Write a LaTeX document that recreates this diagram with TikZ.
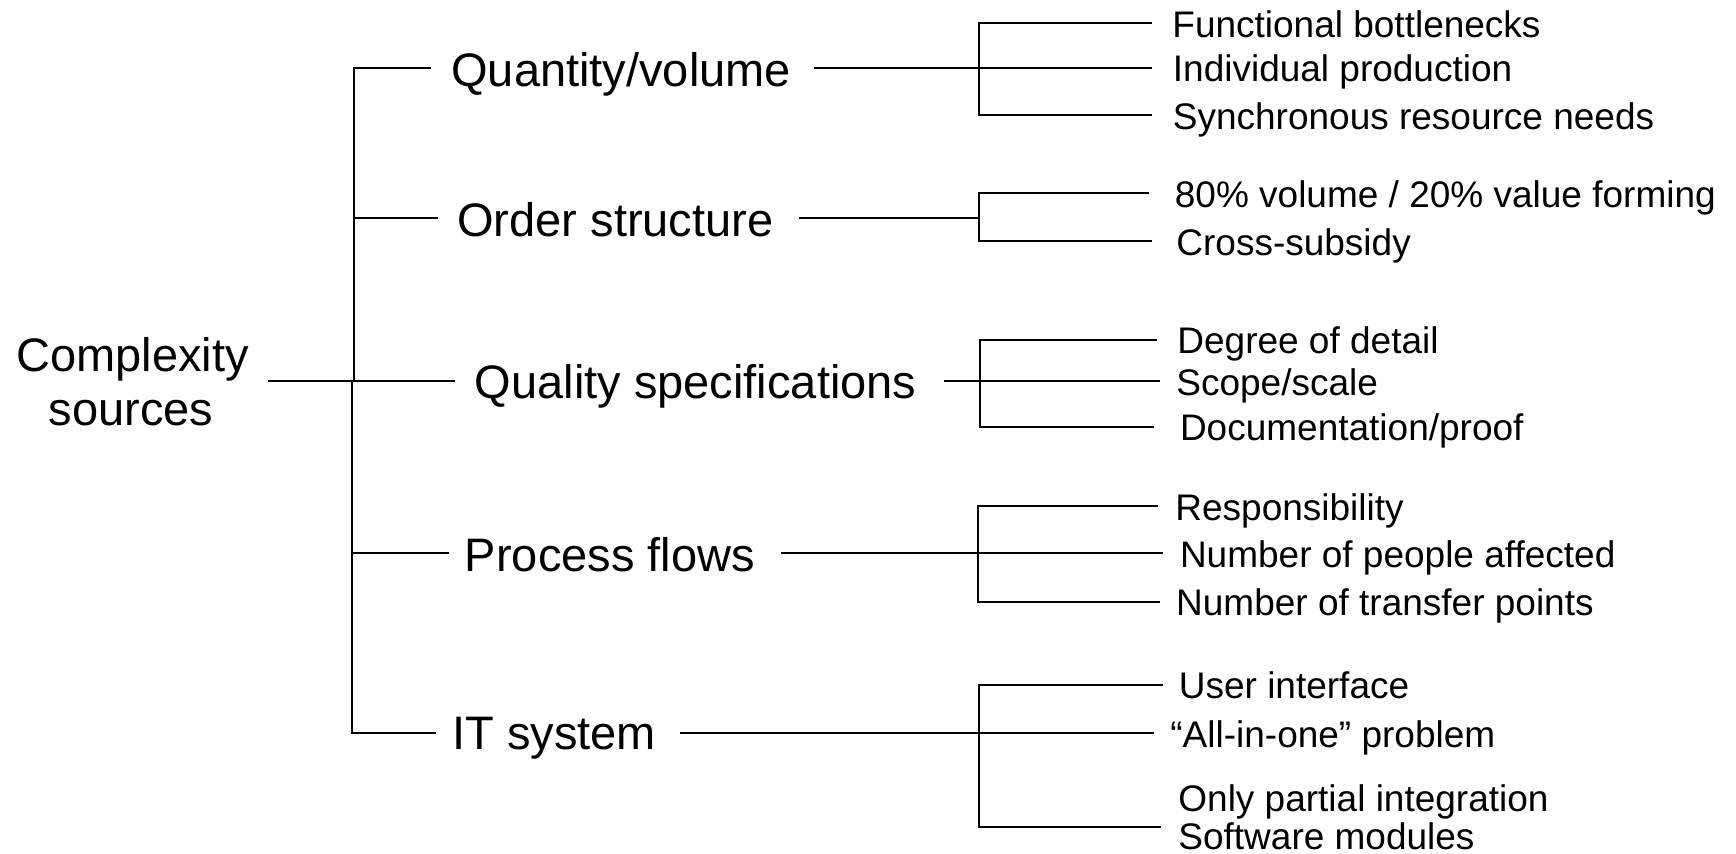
\documentclass[tikz,border=0pt]{standalone}
\usepackage{fontspec}
\setmainfont{Liberation Sans}
\begin{document}
\begin{tikzpicture}[x=0.5pt,y=-0.5pt,
  main/.style={font=\fontsize{23.5}{28}\selectfont, inner sep=0pt, anchor=base west},
  sub/.style={font=\fontsize{18.5}{22}\selectfont, inner sep=0pt, anchor=base west},
  link/.style={line width=0.9pt, line cap=rect},
  trunk/.style={line width=1.4pt}]
\useasboundingbox (0,0) rectangle (1736,854);

% root
\node[main, anchor=base] (root1) at (132.5,372) {Complexity};
\node[main, anchor=base] (root2) at (131,426) {sources};

% main items
\node[main] (qv) at (451,86.5)   {Quantity/volume};
\node[main] (os) at (457,236.7)  {Order structure};
\node[main] (qs) at (474.5,399)  {Quality specifications};
\node[main] (pf) at (464.5,571.5){Process flows};
\node[main] (it) at (452,750)    {IT system};

% sub items
\node[sub] (s11) at (1172,38)    {Functional bottlenecks};
\node[sub] (s12) at (1172.5,81.5){Individual production};
\node[sub] (s13) at (1172.5,130) {Synchronous resource needs};
\node[sub] (s21) at (1174.5,208) {80\% volume / 20\% value forming};
\node[sub] (s22) at (1176,256)   {Cross-subsidy};
\node[sub] (s31) at (1177,354)   {Degree of detail};
\node[sub] (s32) at (1176,395.5) {Scope/scale};
\node[sub] (s33) at (1179.6,441) {Documentation/proof};
\node[sub] (s41) at (1175,520.5) {Responsibility};
\node[sub] (s42) at (1179.6,567.5){Number of people affected};
\node[sub] (s43) at (1175.8,616) {Number of transfer points};
\node[sub] (s51) at (1178.5,699) {User interface};
\node[sub] (s52) at (1170,747.5) {“All-in-one” problem};
\node[sub] (s53) at (1178,812)   {Only partial integration};
\node[sub] (s54) at (1178,849.5) {Software modules};

% connector points: root and trunk
\coordinate (r0) at (268,381);
\coordinate (t1) at (354,67.7);
\coordinate (t2) at (354,217.7);
\coordinate (t3) at (354,381);
\coordinate (t3b) at (352,381);
\coordinate (t4) at (352,553.3);
\coordinate (t5) at (352,732.7);

% left ends of main items
\coordinate (qvL) at (430,67.7);
\coordinate (osL) at (437,217.7);
\coordinate (qsL) at (454,381);
\coordinate (pfL) at (448,553.3);
\coordinate (itL) at (435,732.7);
% right ends of main items
\coordinate (qvR) at (815,67.7);
\coordinate (osR) at (800,217.7);
\coordinate (qsR) at (945,381);
\coordinate (pfR) at (782,553.3);
\coordinate (itR) at (681,732.7);

% brackets
\coordinate (b1) at (979,67.7);
\coordinate (b2) at (979,217.7);
\coordinate (b3) at (985,381);
\coordinate (b4) at (979,553.3);
\coordinate (b5) at (979,732.7);

% sub line ends
\coordinate (e11) at (1150.6,22.7);
\coordinate (e12) at (1151,67.7);
\coordinate (e13) at (1151,115);
\coordinate (e21) at (1148,192.7);
\coordinate (e22) at (1150.6,240.7);
\coordinate (e31) at (1156,340);
\coordinate (e32) at (1158.6,381);
\coordinate (e33) at (1153,426.7);
\coordinate (e41) at (1157,505.7);
\coordinate (e42) at (1162,553.3);
\coordinate (e43) at (1158.6,601.7);
\coordinate (e51) at (1162,685);
\coordinate (e52) at (1153,732.7);
\coordinate (e54) at (1159.6,827.3);

% root stem and trunk
\draw[trunk] (r0) -- (t3);
\draw[link] (t1) -- (t2);
\draw[trunk] (t2) -- (t3);
\draw[link] (t3b) -- (t5);

% trunk to main items
\draw[link] (t1) -- (qvL);
\draw[link] (t2) -- (osL);
\draw[link] (t3) -- (qsL);
\draw[link] (t4) -- (pfL);
\draw[link] (t5) -- (itL);

% main items to brackets
\draw[link] (qvR) -- (b1);
\draw[link] (osR) -- (b2);
\draw[link] (qsR) -- (b3);
\draw[link] (pfR) -- (b4);
\draw[link] (itR) -- (b5);

% bracket 1
\draw[link] (e11) -| (979,67.7) |- (e13);
\draw[link] (b1) -- (e12);
% bracket 2
\draw[link] (e21) -| (979,217.7) |- (e22);
% bracket 3
\draw[link] (e31) -| (980,381) |- (e33);
\draw[link] (980,381) -- (e32);
% bracket 4
\draw[link] (e41) -| (978,553.3) |- (e43);
\draw[link] (978,553.3) -- (e42);
% bracket 5
\draw[link] (e51) -| (979,732.7) |- (e54);
\draw[link] (b5) -- (e52);
\end{tikzpicture}
\end{document}
